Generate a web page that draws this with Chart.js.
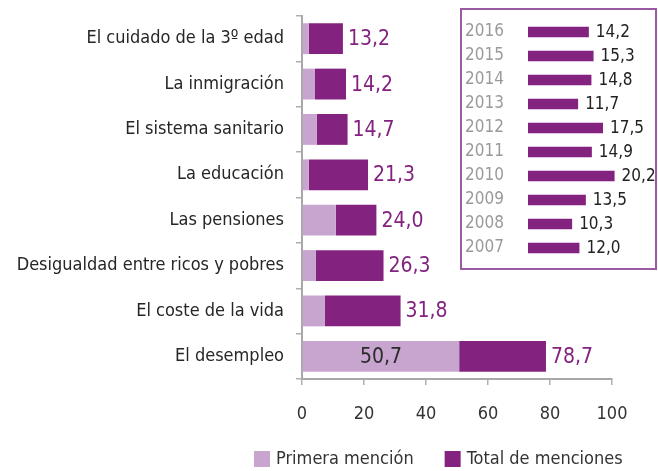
<!DOCTYPE html>
<html>
<head>
<meta charset="utf-8">
<script src="https://cdn.jsdelivr.net/npm/chart.js@4"></script>
<style>
  body { margin: 0; background: #fff; }
  #wrap { position: relative; width: 658px; height: 471px; }
  #main { position: absolute; left: 0; top: 0; }
  #box { position: absolute; left: 460px; top: 8px; width: 193px; height: 258px; border: 2px solid #9a5aa2; background: #fff; }
  #inset { position: absolute; left: 0; top: 0; }
</style>
</head>
<body>
<div id="wrap">
  <canvas id="main" width="658" height="471"></canvas>
  <div id="box"><canvas id="inset" width="193" height="258"></canvas></div>
</div>
<script>
const categories = [
  "El cuidado de la 3º edad",
  "La inmigración",
  "El sistema sanitario",
  "La educación",
  "Las pensiones",
  "Desigualdad entre ricos y pobres",
  "El coste de la vida",
  "El desempleo",
];
const primera = [2.2, 4.2, 4.8, 2.2, 10.9, 4.5, 7.4, 50.7];
const total = [13.2, 14.2, 14.7, 21.3, 24.0, 26.3, 31.8, 78.7];
const xTicks = [0, 20, 40, 60, 80, 100];

const years = ["2016", "2015", "2014", "2013", "2012", "2011", "2010", "2009", "2008", "2007"];
const yearValues = [14.2, 15.3, 14.8, 11.7, 17.5, 14.9, 20.2, 13.5, 10.3, 12.0];

const LIGHT = "#c8a5cf";
const DARK = "#84237f";
const FONT = "'Liberation Sans Narrow', 'DejaVu Sans Condensed', sans-serif";
Chart.defaults.font.family = FONT;

function fmt(v) {
  return v.toFixed(1).replace(".", ",");
}

// remaining part of the bar on top of the first mention
const resto = total.map((t, i) => +(t - primera[i]).toFixed(1));

const mainLabels = {
  id: "mainLabels",
  afterDatasetsDraw(chart) {
    const ctx = chart.ctx;
    const metaDark = chart.getDatasetMeta(1);
    const metaLight = chart.getDatasetMeta(0);
    ctx.save();
    ctx.font = `21px ${FONT}`;
    ctx.textBaseline = "middle";
    metaDark.data.forEach((bar, i) => {
      ctx.fillStyle = DARK;
      ctx.textAlign = "left";
      ctx.fillText(fmt(total[i]), bar.x + 5, bar.y + 1);
      if (primera[i] > 30) {
        const lb = metaLight.data[i];
        ctx.fillStyle = "#2b2b2b";
        ctx.textAlign = "center";
        ctx.fillText(fmt(primera[i]), (lb.x + lb.base) / 2, lb.y + 1);
      }
    });
    ctx.restore();
  },
};

// legend drawn under the axis, from the dataset labels and colours
const bottomLegend = {
  id: "bottomLegend",
  afterDraw(chart) {
    const ctx = chart.ctx;
    ctx.save();
    ctx.font = `18px ${FONT}`;
    ctx.textBaseline = "middle";
    ctx.textAlign = "left";
    let x = 254;
    const y = 459;
    chart.data.datasets.forEach((ds) => {
      ctx.fillStyle = ds.backgroundColor;
      ctx.fillRect(x, y - 8, 16, 16);
      ctx.fillStyle = "#333";
      ctx.fillText(ds.label, x + 22, y);
      x += 22 + ctx.measureText(ds.label).width + 31;
    });
    ctx.restore();
  },
};

new Chart(document.getElementById("main"), {
  type: "bar",
  data: {
    labels: categories,
    datasets: [
      { label: "Primera mención", data: primera, backgroundColor: LIGHT },
      { label: "Total de menciones", data: resto, backgroundColor: DARK },
    ],
  },
  options: {
    indexAxis: "y",
    responsive: false,
    animation: false,
    layout: { padding: { top: 16, right: 0, left: 0, bottom: 0 } },
    datasets: { bar: { barPercentage: 0.68, categoryPercentage: 1 } },
    scales: {
      x: {
        stacked: true,
        min: 0,
        max: 100,
        afterBuildTicks: (s) => { s.ticks = xTicks.map((v) => ({ value: v })); },
        afterFit: (s) => { s.height = 92; s.paddingRight = 46; },
        grid: { drawOnChartArea: false, tickLength: 6, color: "#b0b0b0", lineWidth: 1.5 },
        border: { color: "#a8a8a8", width: 2 },
        ticks: { color: "#333", font: { size: 18 }, padding: 19 },
      },
      y: {
        stacked: true,
        afterFit: (s) => { s.width = 302; s.paddingTop = 0; s.paddingBottom = 0; },
        grid: { drawOnChartArea: false, tickLength: 6, color: "#b0b0b0", lineWidth: 1.5 },
        border: { color: "#a8a8a8", width: 2 },
        ticks: { color: "#262626", font: { size: 18 }, padding: 12 },
      },
    },
    plugins: { legend: { display: false }, tooltip: { enabled: false } },
  },
  plugins: [mainLabels, bottomLegend],
});

const insetLabels = {
  id: "insetLabels",
  afterDatasetsDraw(chart) {
    const ctx = chart.ctx;
    ctx.save();
    ctx.font = `17px ${FONT}`;
    ctx.fillStyle = "#222";
    ctx.textAlign = "left";
    ctx.textBaseline = "middle";
    chart.getDatasetMeta(0).data.forEach((bar, i) => {
      ctx.fillText(fmt(yearValues[i]), bar.x + 7, bar.y + 1);
    });
    ctx.restore();
  },
};

new Chart(document.getElementById("inset"), {
  type: "bar",
  data: {
    labels: years,
    datasets: [{ data: yearValues, backgroundColor: DARK }],
  },
  options: {
    indexAxis: "y",
    responsive: false,
    animation: false,
    layout: { padding: { top: 10, right: 7, left: 0, bottom: 8 } },
    datasets: { bar: { barPercentage: 0.44, categoryPercentage: 1 } },
    scales: {
      x: { display: false, min: 0, max: 28 },
      y: {
        afterFit: (s) => { s.width = 66; s.paddingTop = 0; s.paddingBottom = 0; },
        grid: { display: false },
        border: { display: false },
        ticks: { color: "#9a9a9a", font: { size: 17 }, padding: 16, autoSkip: false },
      },
    },
    plugins: { legend: { display: false }, tooltip: { enabled: false } },
  },
  plugins: [insetLabels],
});
</script>
</body>
</html>
